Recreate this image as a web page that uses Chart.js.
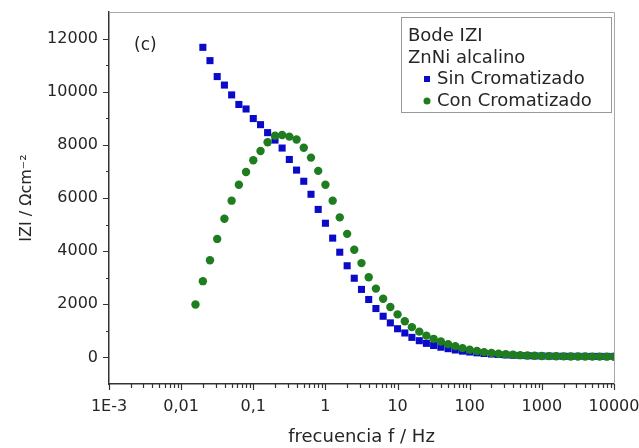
<!DOCTYPE html>
<html>
<head>
<meta charset="utf-8">
<script src="https://cdn.jsdelivr.net/npm/chart.js@4.4.1/dist/chart.umd.min.js"></script>
<style>
  html, body { margin: 0; padding: 0; background: #fff; }
  #chart { display: block; }
</style>
</head>
<body>
<canvas id="chart" width="639" height="448"></canvas>
<script>
// frequencies (Hz), 10 points per decade
const frequencies = [
    0.0158, 0.02, 0.0251, 0.0316, 0.0398, 0.0501, 0.0631, 0.0794,
    0.1, 0.126, 0.158, 0.2, 0.251, 0.316, 0.398, 0.501, 0.631, 0.794,
    1, 1.26, 1.58, 2, 2.51, 3.16, 3.98, 5.01, 6.31, 7.94,
    10, 12.6, 15.8, 20, 25.1, 31.6, 39.8, 50.1, 63.1, 79.4,
    100, 126, 158, 200, 251, 316, 398, 501, 631, 794,
    1000, 1260, 1580, 2000, 2510, 3160, 3980, 5010, 6310, 7940,
    10000
];

// |Z| values, Ohm cm^2
const sinCromatizado = [
    null, 11670, 11170, 10570, 10250, 9880, 9520, 9350,
    8990, 8760, 8460, 8180, 7880, 7450, 7050, 6630, 6140, 5570,
    5050, 4490, 3960, 3450, 2980, 2560, 2180, 1840, 1550, 1300,
    1080, 920, 755, 630, 530, 450, 385, 330, 280, 238,
    204, 174, 150, 128, 110, 95, 82, 72, 64, 58,
    53, 49, 46, 44, 42, 41, 40, 39, 38, 38,
    37
];

const conCromatizado = [
    1990, 2870, 3660, 4460, 5220, 5900, 6500, 6980,
    7420, 7770, 8100, 8340, 8370, 8310, 8200, 7890, 7520, 7020,
    6500, 5900, 5270, 4650, 4050, 3550, 3020, 2590, 2210, 1900,
    1620, 1360, 1140, 970, 820, 700, 600, 500, 425, 350,
    290, 240, 200, 165, 140, 118, 100, 85, 72, 62,
    54, 48, 44, 40, 37, 35, 33, 31, 30, 29,
    28
];

const xTickValues = [0.001, 0.01, 0.1, 1, 10, 100, 1000, 10000];
const xTickLabels = ["1E-3", "0,01", "0,1", "1", "10", "100", "1000", "10000"];
const yTickValues = [0, 2000, 4000, 6000, 8000, 10000, 12000];
const yTickLabels = ["0", "2000", "4000", "6000", "8000", "10000", "12000"];
const yMinorValues = [1000, 3000, 5000, 7000, 9000, 11000];

const legendTitle = ["Bode IZI", "ZnNi alcalino"];
const seriesNames = ["Sin Cromatizado", "Con Cromatizado"];

const BLUE = "#0a0ac8";
const GREEN = "#1f7d1f";
const TEXT = "#262626";
const FONT = "'DejaVu Sans', sans-serif";

function toPoints(values) {
    const pts = [];
    values.forEach((v, i) => {
        if (v !== null) pts.push({ x: frequencies[i], y: v });
    });
    return pts;
}

// extra drawing: frame, tick marks, legend box and panel label
const extras = {
    id: "extras",
    afterDraw(chart) {
        const { ctx, chartArea: a, scales: { x, y } } = chart;
        ctx.save();

        // grey top/right frame
        ctx.strokeStyle = "#a8a8a8";
        ctx.lineWidth = 1;
        ctx.beginPath();
        ctx.moveTo(a.left, a.top + 0.5);
        ctx.lineTo(a.right + 0.5, a.top + 0.5);
        ctx.lineTo(a.right + 0.5, a.bottom);
        ctx.stroke();

        // tick marks
        ctx.strokeStyle = "#333";
        ctx.lineWidth = 1.2;
        ctx.beginPath();
        xTickValues.forEach((v, i) => {
            const px = Math.round(x.getPixelForValue(v)) + 0.5;
            ctx.moveTo(px, a.bottom);
            ctx.lineTo(px, a.bottom + 6);
            if (i < xTickValues.length - 1) {
                for (let k = 2; k <= 9; k++) {
                    const mx = Math.round(x.getPixelForValue(v * k)) + 0.5;
                    ctx.moveTo(mx, a.bottom);
                    ctx.lineTo(mx, a.bottom + 4);
                }
            }
        });
        yTickValues.forEach((v) => {
            const py = Math.round(y.getPixelForValue(v)) + 0.5;
            ctx.moveTo(a.left, py);
            ctx.lineTo(a.left - 6, py);
        });
        yMinorValues.forEach((v) => {
            const py = Math.round(y.getPixelForValue(v)) + 0.5;
            ctx.moveTo(a.left, py);
            ctx.lineTo(a.left - 3, py);
        });
        ctx.stroke();

        // panel label
        ctx.fillStyle = TEXT;
        ctx.font = "17px " + FONT;
        ctx.textBaseline = "middle";
        ctx.textAlign = "left";
        ctx.fillText("(c)", 134, 46);

        // legend box
        ctx.strokeStyle = "#999";
        ctx.lineWidth = 1;
        ctx.strokeRect(401.5, 17.5, 210, 95);
        ctx.font = "18px " + FONT;
        ctx.fillText(legendTitle[0], 408, 36);
        ctx.fillText(legendTitle[1], 408, 58);
        ctx.fillText(seriesNames[0], 437, 79);
        ctx.fillText(seriesNames[1], 437, 101);
        ctx.fillStyle = BLUE;
        ctx.fillRect(424, 76, 6, 6);
        ctx.fillStyle = GREEN;
        ctx.beginPath();
        ctx.arc(427, 101, 3.5, 0, Math.PI * 2);
        ctx.fill();

        ctx.restore();
    }
};

new Chart(document.getElementById("chart"), {
    type: "scatter",
    data: {
        datasets: [
            {
                label: seriesNames[1],
                data: toPoints(conCromatizado),
                pointStyle: "circle",
                pointRadius: 4.2,
                backgroundColor: GREEN,
                borderColor: GREEN,
                borderWidth: 0
            },
            {
                label: seriesNames[0],
                data: toPoints(sinCromatizado),
                pointStyle: "rect",
                pointRadius: 5,
                backgroundColor: BLUE,
                borderColor: BLUE,
                borderWidth: 0
            }
        ]
    },
    options: {
        responsive: false,
        animation: false,
        layout: { padding: { top: 12, right: 25, left: 0, bottom: 0 } },
        plugins: {
            legend: { display: false },
            tooltip: { enabled: false }
        },
        scales: {
            x: {
                type: "logarithmic",
                min: 0.001,
                max: 10000,
                afterBuildTicks: (scale) => {
                    scale.ticks = xTickValues.map((v) => ({ value: v, major: true }));
                },
                afterFit: (scale) => {
                    scale.height = 64;
                    scale.paddingLeft = 0;
                    scale.paddingRight = 0;
                },
                grid: { display: false, drawTicks: false },
                border: { display: true, color: "#333", width: 1.5 },
                ticks: {
                    autoSkip: false,
                    maxRotation: 0,
                    padding: 13,
                    color: TEXT,
                    font: { family: FONT, size: 16 },
                    callback: (v) => {
                        const i = xTickValues.indexOf(v);
                        return i >= 0 ? xTickLabels[i] : "";
                    }
                },
                title: {
                    display: true,
                    text: "frecuencia f / Hz",
                    color: TEXT,
                    font: { family: FONT, size: 18 },
                    padding: { top: 0, bottom: 0 }
                }
            },
            y: {
                min: -1000,
                max: 13000,
                afterBuildTicks: (scale) => {
                    scale.ticks = yTickValues.map((v) => ({ value: v }));
                },
                afterFit: (scale) => {
                    scale.width = 109;
                    scale.paddingTop = 0;
                    scale.paddingBottom = 0;
                },
                grid: { display: false, drawTicks: false },
                border: { display: true, color: "#333", width: 1.5 },
                ticks: {
                    padding: 11,
                    color: TEXT,
                    font: { family: FONT, size: 16 },
                    callback: (v) => {
                        const i = yTickValues.indexOf(v);
                        return i >= 0 ? yTickLabels[i] : "";
                    }
                },
                title: {
                    display: true,
                    text: "IZI / \u03A9cm\u207B\u00B2",
                    color: TEXT,
                    font: { family: FONT, size: 16 },
                    padding: { top: 17, bottom: 0 }
                }
            }
        }
    },
    plugins: [extras]
});
</script>
</body>
</html>
